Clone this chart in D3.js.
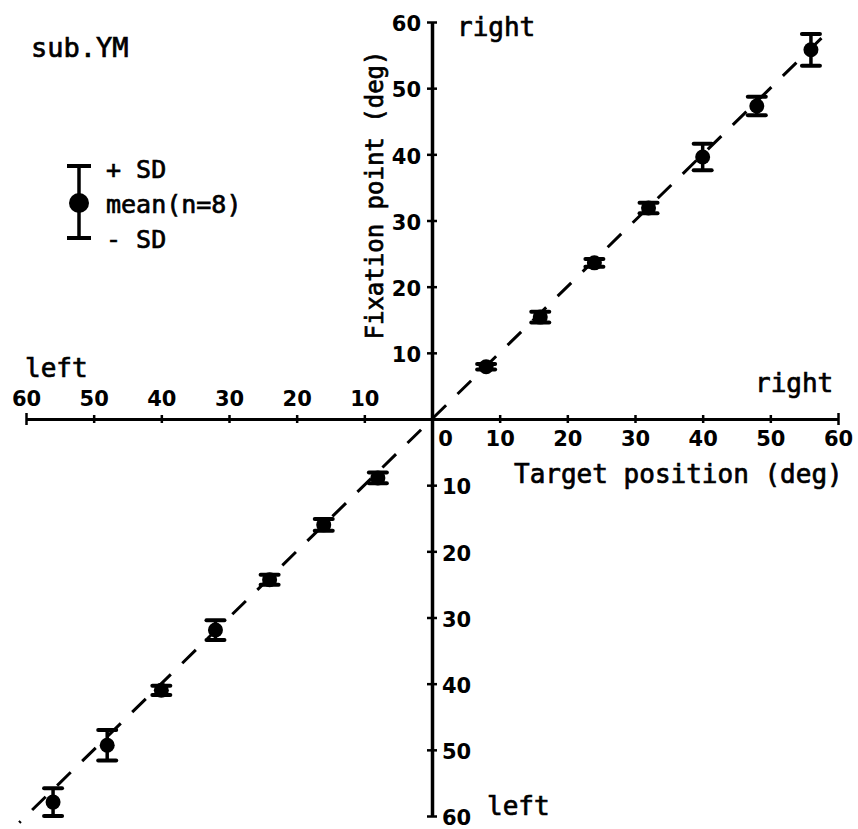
<!DOCTYPE html>
<html>
<head>
<meta charset="utf-8">
<script src="https://cdn.jsdelivr.net/npm/d3@7"></script>
<style>
  html, body { margin: 0; padding: 0; background: #fff; }
  svg { display: block; }
  .lbl { font-family: "DejaVu Sans Mono", monospace; font-size: 26px; fill: #000; stroke: #000; stroke-width: 0.7px; }
  .tick text { font-family: "DejaVu Sans", sans-serif; font-weight: bold; font-size: 21px; fill: #000; }
</style>
</head>
<body>
<div id="chart"></div>
<script>
// target positions (deg), mean fixation point (deg), and SD (deg)
var targets = [-56, -48, -40, -32, -24, -16, -8, 8, 16, 24, 32, 40, 48, 56];
var means   = [-57.9, -49.3, -41.0, -31.9, -24.3, -16.0, -8.9, 7.9, 15.4, 23.6, 31.9, 39.6, 47.3, 55.8];
var sds     = [2.1, 2.3, 0.7, 1.5, 0.75, 0.9, 0.8, 0.4, 0.8, 0.6, 0.8, 2.0, 1.4, 2.4];

var axisTicks = [-60, -50, -40, -30, -20, -10, 10, 20, 30, 40, 50, 60];
var xTicks = [-60, -50, -40, -30, -20, -10, 0, 10, 20, 30, 40, 50, 60];
var fitLine = [-61, 58];   // y = x reference line

var width = 858, height = 829;

var svg = d3.select("#chart").append("svg")
	.attr("width", width)
	.attr("height", height);

var x = d3.scaleLinear().domain([-60, 60]).range([26, 838]),
	y = d3.scaleLinear().domain([-60, 60]).range([816, 22]);

var points = targets.map((t, i) => ({t: t, m: means[i], sd: sds[i]}));

// x axis
var gx = svg.append("g")
	.attr("transform", `translate(0,${y(0)})`)
	.call(d3.axisBottom(x).tickValues(xTicks).tickSizeOuter(0).tickFormat(d => Math.abs(d)));
gx.select(".domain").attr("stroke", "#000").attr("stroke-width", 3);
gx.selectAll(".tick line")
	.attr("stroke", "#000")
	.attr("stroke-width", 2.5)
	.attr("y1", d => Math.abs(d) == 60 ? -6 : -4)
	.attr("y2", d => d == 0 ? 0 : (Math.abs(d) == 60 ? 6 : 4));
gx.selectAll(".tick text")
	.attr("x", d => d == 0 ? 13 : 0)
	.attr("y", d => d < 0 ? -13 : 27)
	.attr("dy", null);

// y axis
var gy = svg.append("g")
	.attr("transform", `translate(${x(0)},0)`)
	.call(d3.axisLeft(y).tickValues(axisTicks).tickSizeOuter(0).tickFormat(d => Math.abs(d)));
gy.select(".domain").attr("stroke", "#000").attr("stroke-width", 3.5);
gy.selectAll(".tick line")
	.attr("stroke", "#000")
	.attr("stroke-width", 2.5)
	.attr("x1", -5)
	.attr("x2", 5);
gy.selectAll(".tick text")
	.attr("text-anchor", d => d > 0 ? "end" : "start")
	.attr("x", d => d > 0 ? -11 : 10)
	.attr("dy", "0.42em");

// dashed y = x line
svg.append("path")
	.datum(fitLine)
	.attr("fill", "none")
	.attr("stroke", "#000")
	.attr("stroke-width", 3)
	.attr("stroke-dasharray", "19,16")
	.attr("stroke-dashoffset", 17)
	.attr("d", d3.line().x(d => x(d)).y(d => y(d)));

// error bars
var bars = svg.append("g").selectAll("g")
	.data(points)
	.join("g");

bars.append("line")
	.attr("x1", d => x(d.t)).attr("x2", d => x(d.t))
	.attr("y1", d => y(d.m - d.sd)).attr("y2", d => y(d.m + d.sd))
	.attr("stroke", "#000").attr("stroke-width", 3.5);

bars.selectAll(".cap")
	.data(d => [{t: d.t, v: d.m - d.sd}, {t: d.t, v: d.m + d.sd}])
	.join("line")
	.attr("class", "cap")
	.attr("x1", d => x(d.t) - 9).attr("x2", d => x(d.t) + 9)
	.attr("y1", d => y(d.v)).attr("y2", d => y(d.v))
	.attr("stroke", "#000").attr("stroke-width", 4).attr("stroke-linecap", "round");

bars.append("circle")
	.attr("cx", d => x(d.t))
	.attr("cy", d => y(d.m))
	.attr("r", 7.5)
	.attr("fill", "#000");

// legend
var leg = svg.append("g");
leg.append("line").attr("x1", 79).attr("x2", 79).attr("y1", 166).attr("y2", 238)
	.attr("stroke", "#000").attr("stroke-width", 3.5);
leg.append("line").attr("x1", 67).attr("x2", 91).attr("y1", 166).attr("y2", 166)
	.attr("stroke", "#000").attr("stroke-width", 4);
leg.append("line").attr("x1", 67).attr("x2", 91).attr("y1", 238).attr("y2", 238)
	.attr("stroke", "#000").attr("stroke-width", 4);
leg.append("circle").attr("cx", 79).attr("cy", 203).attr("r", 10).attr("fill", "#000");
leg.append("text").attr("class", "lbl").attr("x", 106).attr("y", 178).style("font-size", "25px").text("+ SD");
leg.append("text").attr("class", "lbl").attr("x", 106).attr("y", 213).style("font-size", "25px").text("mean(n=8)");
leg.append("text").attr("class", "lbl").attr("x", 106).attr("y", 248).style("font-size", "25px").text("- SD");

// labels
function label(txt, px, py) {
	return svg.append("text").attr("class", "lbl").attr("x", px).attr("y", py).text(txt);
}
label("sub.YM", 31, 57).style("font-size", "27px");
label("left", 25, 377);
label("right", 755, 392);
label("right", 457, 36);
label("left", 487, 815);
label("Target position (deg)", 514, 483);
svg.append("text").attr("class", "lbl")
	.attr("transform", "translate(383,195) rotate(-90)")
	.attr("text-anchor", "middle")
	.style("font-size", "24px")
	.text("Fixation point (deg)");
</script>
</body>
</html>
